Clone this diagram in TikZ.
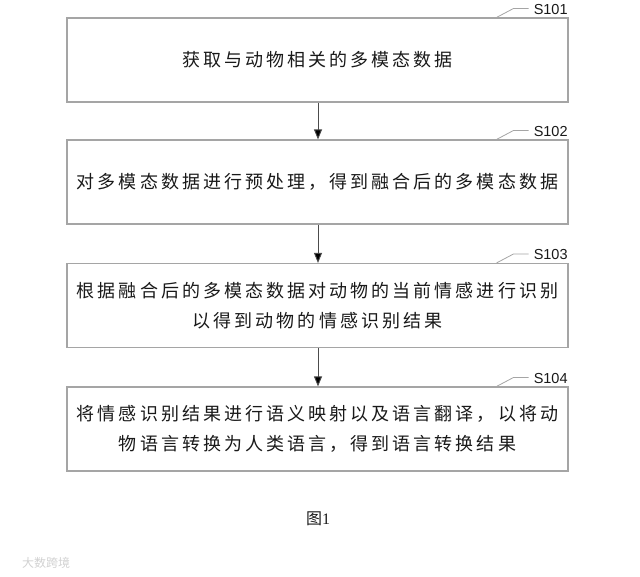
\documentclass[tikz,border=0pt]{standalone}
\usepackage{fontspec}
\newfontfamily\cjk{Noto Sans CJK SC}[LetterSpace=17]
\newfontfamily\cjkplain{Noto Sans CJK SC}
\newfontfamily\lblfont{Liberation Sans}
\newfontfamily\capserif{Liberation Serif}
\usetikzlibrary{arrows.meta}
\definecolor{boxgray}{RGB}{165,165,165}
\definecolor{txt}{RGB}{25,25,25}
\begin{document}
\begin{tikzpicture}[x=1pt,y=-1pt,
  stepbox/.style={draw=boxgray,line width=1.1pt,minimum width=501pt,minimum height=84pt,inner sep=0pt,
     align=center,text=txt,font=\cjk\fontsize{18}{30}\selectfont},
  flow/.style={draw=black!70,line width=0.9pt,-{Triangle[length=10pt,width=8pt,fill=black]}},
  leader/.style={draw=boxgray,line width=0.8pt},
  steplbl/.style={anchor=west,inner sep=0pt,text=txt,font=\lblfont\fontsize{14.5}{16}\selectfont}]
\useasboundingbox (0,0) rectangle (640,577);
\node[stepbox] (b1) at (317.5,60) {获取与动物相关的多模态数据};
\node[stepbox] (b2) at (317.5,182) {对多模态数据进行预处理，得到融合后的多模态数据};
\node[stepbox] (b3) at (317.5,305.5) {根据融合后的多模态数据对动物的当前情感进行识别\\以得到动物的情感识别结果};
\node[stepbox] (b4) at (317.5,429) {将情感识别结果进行语义映射以及语言翻译，以将动\\物语言转换为人类语言，得到语言转换结果};
\draw[flow] (b1.south -| 318,0) -- (b2.north -| 318,0);
\draw[flow] (b2.south -| 318,0) -- (b3.north -| 318,0);
\draw[flow] (b3.south -| 318,0) -- (b4.north -| 318,0);
\foreach \b/\s in {b1/S101,b2/S102,b3/S103,b4/S104}{
  \coordinate (\b l0) at ([xshift=-72pt]\b.north east);
  \coordinate (\b l1) at ([xshift=-55pt,yshift=9pt]\b.north east);
  \coordinate (\b l2) at ([xshift=-40pt,yshift=9pt]\b.north east);
  \draw[leader] (\b l0) -- (\b l1) -- (\b l2);
  \node[steplbl] (\b lab) at ([xshift=-35pt,yshift=8pt]\b.north east) {\s};
}
\node[text=txt,inner sep=0pt,font=\fontsize{16}{18}\selectfont] (cap) at (318,519) {{\cjkplain 图}{\capserif 1}};
\node[anchor=west,inner sep=0pt,text=black!18,font=\cjkplain\fontsize{12}{13}\selectfont] (wm) at (22,563) {大数跨境};
\end{tikzpicture}
\end{document}
